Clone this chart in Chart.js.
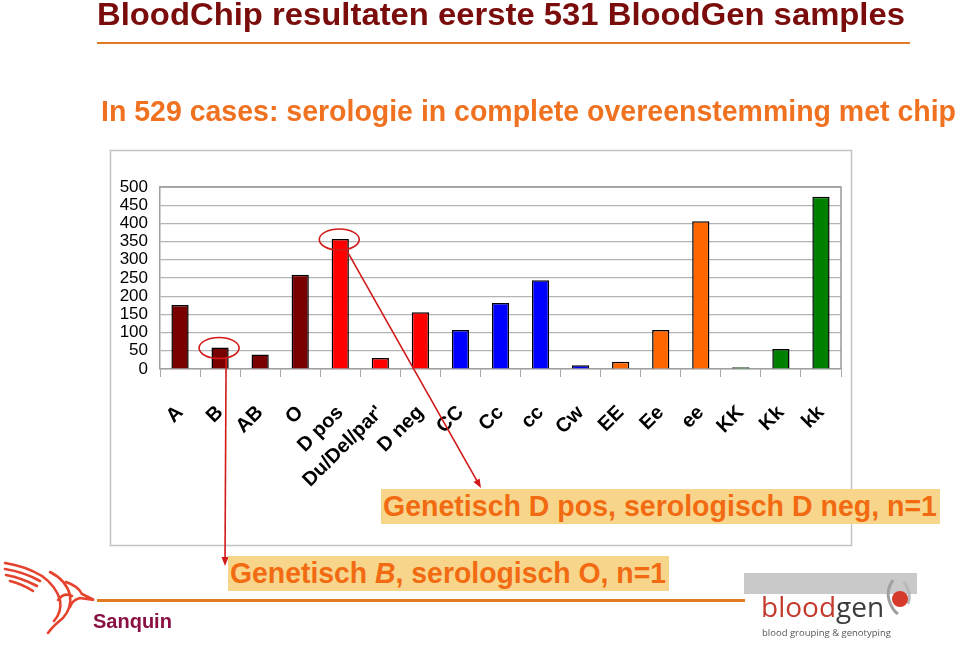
<!DOCTYPE html>
<html><head><meta charset="utf-8">
<script src="https://cdn.jsdelivr.net/npm/chart.js@4.4.1/dist/chart.umd.min.js"></script>
<style>
html,body{margin:0;padding:0;background:#fff;width:960px;height:645px;overflow:hidden;}
#wrap{position:relative;width:960px;height:645px;}
#c{position:absolute;left:0;top:0;}
.t{position:absolute;white-space:nowrap;font-family:'Liberation Sans',Arial,sans-serif;font-weight:bold;line-height:1;transform-origin:0 0;}
.box{position:absolute;background:#f7d68b;}
.rule{position:absolute;background:#e07b22;}
svg{position:absolute;left:0;top:0;}
</style></head>
<body><div id="wrap">
<canvas id="c" width="960" height="645"></canvas>
<div class="rule" style="left:97px;top:41.5px;width:813px;height:2.5px;"></div>
<div class="rule" style="left:97px;top:599px;width:648px;height:3px;"></div>
<div class="t" data-w="808" style="left:97px;top:-1.5px;font-size:31px;color:#7a0c0c;">BloodChip resultaten eerste 531 BloodGen samples</div>
<div class="t" data-w="855" style="left:101px;top:97px;font-size:29px;color:#f07221;">In 529 cases: serologie in complete overeenstemming met chip</div>
<div class="box" style="left:381px;top:489px;width:559px;height:35px;"></div>
<div class="t" data-w="554" style="left:383px;top:492px;font-size:29px;color:#f26b12;">Genetisch D pos, serologisch D neg, n=1</div>
<div class="box" style="left:228px;top:556px;width:441px;height:35px;"></div>
<div class="t" data-w="436" style="left:230px;top:559px;font-size:29px;color:#f26b12;">Genetisch <i>B</i>, serologisch O, n=1</div>
<div class="t" style="left:93px;top:611px;font-size:20px;color:#8a1043;">Sanquin</div>
<svg width="960" height="645" style="pointer-events:none">
 <g fill="none" stroke="#e5432d" stroke-width="2.6" stroke-linecap="round">
  <path d="M5 563 Q25 566 42 576"/><path d="M5 569 Q24 572 40 581"/><path d="M6 575 Q22 578 37 586"/><path d="M10 581 Q22 584 33 591"/>
  <path d="M42 576 Q56 586 60 600 Q62 612 54 621"/>
  <path d="M50 572 Q66 580 70 595 Q72 608 63 618 Q53 626 48 633"/>
  <path d="M66 582 Q78 586 82 594 L94 600 L80 598 Q72 600 70 607"/>
  <path d="M58 600 Q64 592 72 596"/>
 </g>
 <rect x="744" y="573" width="173" height="21" fill="#c9c9c9"/>
 <path d="M893 580 Q886 590 889 600 Q892 610 898 614" stroke="#a0a0a0" stroke-width="3" fill="none"/>
 <path d="M904 582 Q912 592 908 604" stroke="#b8b8b8" stroke-width="3" fill="none"/>
 <circle cx="900" cy="599" r="8" fill="#d63a2a"/>
 <text x="761" y="617" font-family="'Open Sans',sans-serif" font-size="28" fill="#c43a2e">blood<tspan fill="#3d3d3d">gen</tspan></text>
 <text x="762" y="636" font-family="'Open Sans',sans-serif" font-size="9.5" fill="#555">blood grouping &amp; genotyping</text>
</svg>
</div>
<script>
// ---- data ----
const categories = ['A','B','AB','O','D pos',"Du/Del/par'",'D neg','CC','Cc','cc','Cw','EE','Ee','ee','KK','Kk','kk'];
const counts = [176,59,40,259,357,30,156,107,181,244,10,20,107,406,5,55,473];
const systems = ['ABO','ABO','ABO','ABO','RhD','RhD','RhD','C','C','C','C','E','E','E','K','K','K'];
const yTicks = [0,50,100,150,200,250,300,350,400,450,500];
const highlighted = ['B','D pos'];

// ---- styles ----
const palette = {ABO:'#780000', RhD:'#ff0000', C:'#0000ff', E:'#ff6600', K:'#008000'};
const arrowTargets = {'B':[225,566], 'D pos':[481,488]};

const deco = {
  id:'deco',
  beforeDraw(c){
    const ctx=c.ctx; ctx.save();
    ctx.strokeStyle='#c4c4c4'; ctx.lineWidth=1.5;
    ctx.strokeRect(110.5,150.5,741,395);
    ctx.restore();
  },
  afterDatasetsDraw(c){
    const ctx=c.ctx, a=c.chartArea, xs=c.scales.x, ys=c.scales.y;
    ctx.save();
    ctx.strokeStyle='#999'; ctx.lineWidth=1.5;
    ctx.beginPath(); ctx.moveTo(a.left,a.top); ctx.lineTo(a.right,a.top); ctx.lineTo(a.right,a.bottom); ctx.stroke();
    ctx.strokeStyle='#d21a1a'; ctx.fillStyle='#d21a1a'; ctx.lineWidth=1.6;
    highlighted.forEach(lbl=>{
      const i=categories.indexOf(lbl);
      const cx=xs.getPixelForValue(i), cy=ys.getPixelForValue(counts[i]);
      ctx.beginPath(); ctx.ellipse(cx-1,cy+0.5,20,10.5,0,0,Math.PI*2); ctx.stroke();
      const sx=cx+6, sy=cy+10.5, [tx,ty]=arrowTargets[lbl];
      const ang=Math.atan2(ty-sy,tx-sx);
      ctx.beginPath(); ctx.moveTo(sx,sy); ctx.lineTo(tx-7*Math.cos(ang),ty-7*Math.sin(ang)); ctx.stroke();
      ctx.beginPath(); ctx.moveTo(tx,ty);
      ctx.lineTo(tx-9*Math.cos(ang)+3.5*Math.sin(ang), ty-9*Math.sin(ang)-3.5*Math.cos(ang));
      ctx.lineTo(tx-9*Math.cos(ang)-3.5*Math.sin(ang), ty-9*Math.sin(ang)+3.5*Math.cos(ang));
      ctx.closePath(); ctx.fill();
    });
    ctx.restore();
  }
};

new Chart(document.getElementById('c'), {
  type:'bar',
  data:{labels:categories, datasets:[{data:counts,
    backgroundColor:systems.map(s=>palette[s]), borderColor:'#000', borderWidth:1.5,
    barPercentage:0.43, categoryPercentage:1}]},
  options:{
    responsive:false, animation:false, devicePixelRatio:1,
    layout:{padding:{left:110,top:187,right:119,bottom:116}},
    plugins:{legend:{display:false}, tooltip:{enabled:false}},
    scales:{
      x:{
        afterFit(s){s.height=160;},
        grid:{offset:true, drawOnChartArea:false, drawTicks:true, tickLength:8, color:'#a8a8a8', lineWidth:1},
        border:{color:'#a0a0a0', width:1.5},
        ticks:{autoSkip:false, minRotation:45, maxRotation:45, padding:24, color:'#000',
          font:{family:"'Liberation Sans', Arial, sans-serif", size:20, weight:'bold'}}
      },
      y:{
        min:0, max:500,
        afterFit(s){s.width=50;},
        afterBuildTicks(s){s.ticks=yTicks.map(v=>({value:v}));},
        grid:{color:'#b4b4b4', lineWidth:1.2, drawTicks:false},
        border:{color:'#a0a0a0', width:1.5},
        ticks:{autoSkip:false, padding:12, color:'#000', font:{family:"'Liberation Sans Narrow','Liberation Sans', Arial, sans-serif", size:17}}
      }
    }
  },
  plugins:[deco]
});

document.querySelectorAll('.t[data-w]').forEach(el=>{
  const w=el.getBoundingClientRect().width, tw=+el.dataset.w;
  if(w>0) el.style.transform='scaleX('+(tw/w)+')';
});
</script>
</body></html>
